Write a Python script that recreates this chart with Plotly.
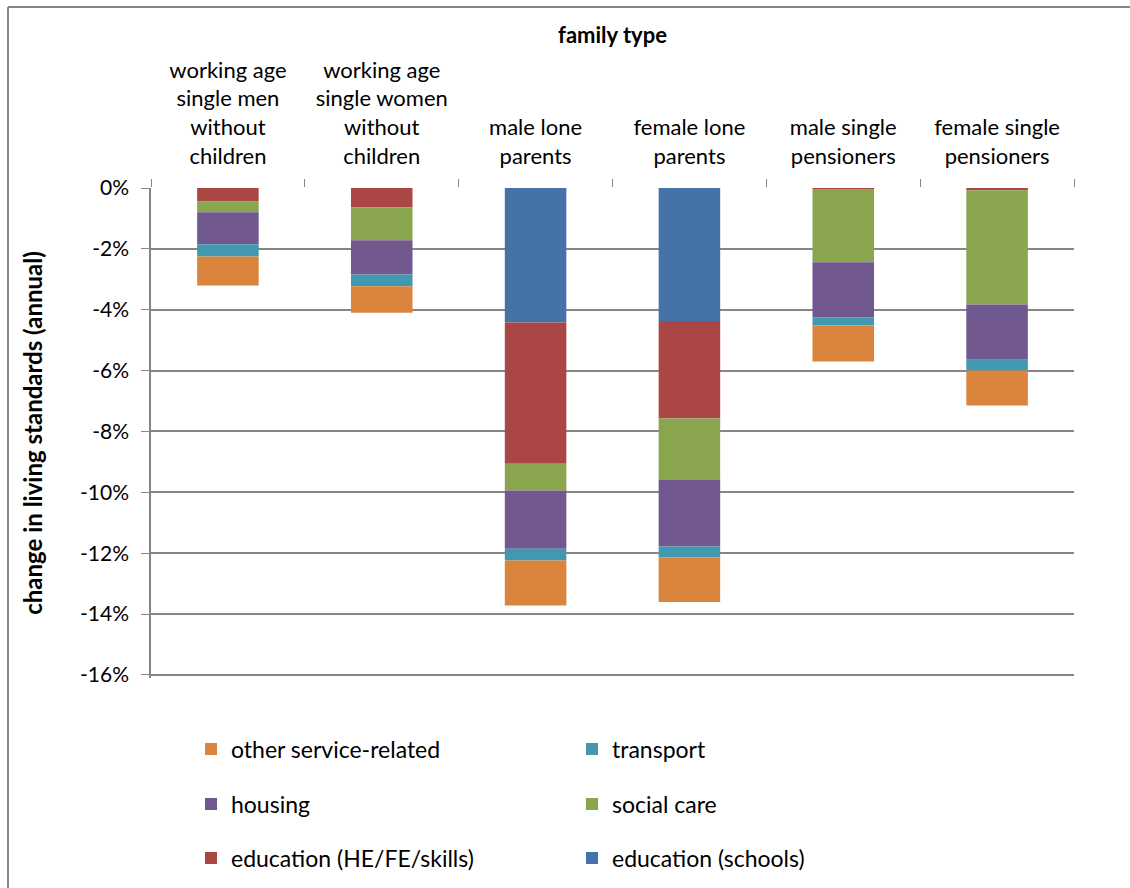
import plotly.graph_objects as go

categories = [
    "working age<br>single men<br>without<br>children",
    "working age<br>single women<br>without<br>children",
    "male lone<br>parents",
    "female lone<br>parents",
    "male single<br>pensioners",
    "female single<br>pensioners",
]

# values in % change (negative = fall in living standards)
edu_schools = [0.0, 0.0, -4.42, -4.37, 0.0, 0.0]
edu_he = [-0.44, -0.63, -4.64, -3.20, -0.03, -0.07]
social_care = [-0.36, -1.09, -0.88, -2.01, -2.41, -3.76]
housing = [-1.05, -1.12, -1.91, -2.20, -1.81, -1.81]
transport = [-0.40, -0.39, -0.39, -0.36, -0.27, -0.36]
other = [-0.95, -0.87, -1.48, -1.46, -1.18, -1.15]

y_ticks = [0, -2, -4, -6, -8, -10, -12, -14, -16]

FONT = "Lato"
series = [
    ("education (schools)", edu_schools, "#4572A7", "legend3"),
    ("education (HE/FE/skills)", edu_he, "#AA4643", "legend3"),
    ("social care", social_care, "#89A54E", "legend2"),
    ("housing", housing, "#71588F", "legend2"),
    ("transport", transport, "#4198AF", "legend"),
    ("other service-related", other, "#DB843D", "legend"),
]

fig = go.Figure()
for name, vals, color, lg in series:
    fig.add_trace(go.Bar(
        x=categories, y=vals, name=name, marker_color=color,
        marker_line_width=0, legend=lg,
    ))

H = 888.0
legend_common = dict(
    orientation="h", traceorder="reversed", entrywidth=336,
    font=dict(family=FONT, size=23, color="#000000"),
    bgcolor="rgba(0,0,0,0)", xanchor="left", yanchor="middle",
    xref="container", yref="container", x=(191 / 1130.0),
)
ph = 490.0
fig.update_layout(
    width=1130, height=888,
    margin=dict(l=151, r=56, t=188, b=210, pad=0),
    paper_bgcolor="white", plot_bgcolor="white",
    barmode="relative", bargap=0.6,
    font=dict(family=FONT, size=20, color="#000000"),
    showlegend=True,
    legend=dict(legend_common, y=1 - 749 / H),
    legend2=dict(legend_common, y=1 - 804 / H),
    legend3=dict(legend_common, y=1 - 858 / H),
    xaxis=dict(
        side="top", type="category",
        ticks="outside", tickson="boundaries", ticklen=8, tickcolor="#868686",
        ticklabelstandoff=19,
        tickfont=dict(family=FONT, size=22, color="#000000"),
        showgrid=False, showline=False, zeroline=False,
        title=dict(text="<b>family type</b>", font=dict(family=FONT, size=22, color="#000000"), standoff=6),
    ),
    yaxis=dict(
        range=[-16.1, 0], tickvals=y_ticks, ticktext=[f"{v}%" for v in y_ticks],
        ticks="outside", ticklen=8, tickcolor="#868686",
        ticklabelstandoff=8,
        tickfont=dict(family=FONT, size=21, color="#000000"),
        showgrid=True, gridcolor="#868686", gridwidth=1.5,
        showline=True, linecolor="#868686", linewidth=1.5,
        zeroline=False,
        title=dict(text="<b>change in living standards (annual)</b>", font=dict(family=FONT, size=24, color="#000000"), standoff=31),
    ),
    shapes=[
        dict(type="line", xref="paper", yref="paper",
             x0=(8 - 151) / 923.0, x1=(1135 - 151) / 923.0,
             y0=(678 - 7) / ph, y1=(678 - 7) / ph,
             line=dict(color="#868686", width=2)),
        dict(type="line", xref="paper", yref="paper",
             x0=(8 - 151) / 923.0, x1=(8 - 151) / 923.0,
             y0=(678 - 7) / ph, y1=(678 - 895) / ph,
             line=dict(color="#868686", width=2)),
    ],
)

fig.write_html("out.html")
